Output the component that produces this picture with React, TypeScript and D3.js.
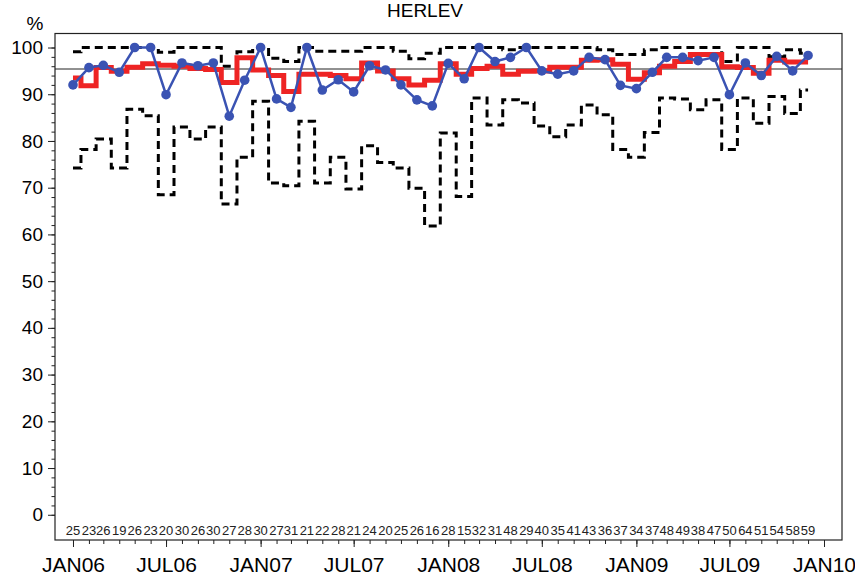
import React, { useRef, useEffect } from 'react';
import * as d3 from 'd3';

const W = 855;
const H = 576;

// one value per month, JAN06 .. DEC09
const months = d3.timeMonth.range(new Date(2006, 0, 1), new Date(2010, 0, 1));

const observed = [
  92.0, 95.7, 96.2, 94.7, 100, 100, 89.9, 96.7, 96.1, 96.7, 85.3, 93.0,
  100, 89.0, 87.2, 100, 90.9, 93.1, 90.5, 96.1, 95.2, 92.0, 88.8, 87.5,
  96.6, 93.3, 100, 97.0, 97.9, 100, 95.0, 94.3, 95.0, 97.9, 97.4, 91.9,
  91.2, 94.7, 97.9, 97.9, 97.2, 97.9, 89.9, 96.7, 94.0, 98.1, 95.0, 98.3,
];

const average = [
  93.5, 91.8, 95.7, 94.9, 95.8, 96.5, 96.2, 96.0, 95.5, 95.3, 92.5, 97.8,
  95.2, 94.0, 90.6, 94.3, 94.3, 94.0, 93.3, 96.7, 95.0, 93.3, 92.0, 93.0,
  96.5, 94.3, 95.5, 96.0, 94.3, 94.9, 95.0, 95.8, 95.8, 97.3, 97.4, 96.4,
  93.2, 94.6, 96.0, 97.0, 98.5, 98.5, 95.9, 95.7, 94.5, 97.3, 96.9, 96.9,
];

const upperLimit = [
  99.1, 100, 100, 100, 100, 100, 99.0, 100, 100, 100, 96.0, 99.1,
  100, 97.7, 97.0, 100, 99.2, 99.2, 99.2, 100, 100, 99.2, 97.6, 98.8,
  100, 100, 100, 100, 99.5, 100, 100, 100, 100, 100, 99.5, 98.5,
  98.5, 99.5, 100, 100, 100, 100, 97.0, 100, 100, 98.0, 99.5, 98.8,
];

const lowerLimit = [
  74.2, 78.2, 80.4, 74.2, 86.8, 85.4, 68.5, 83.0, 80.4, 83.0, 66.5, 76.5,
  88.5, 71.0, 70.4, 84.2, 71.0, 76.5, 69.7, 79.0, 75.4, 74.2, 69.9, 61.8,
  81.7, 68.1, 89.2, 83.4, 88.8, 88.1, 83.2, 80.9, 83.4, 87.7, 85.6, 78.2,
  76.5, 81.8, 89.2, 89.0, 86.7, 88.8, 78.2, 89.2, 83.8, 89.5, 85.9, 90.9,
];

const counts = [
  25, 23, 26, 19, 26, 23, 20, 30, 26, 30, 27, 28,
  30, 27, 31, 21, 22, 28, 21, 24, 20, 25, 26, 16,
  28, 15, 32, 31, 48, 29, 40, 35, 41, 43, 36, 37,
  34, 37, 48, 49, 38, 47, 50, 64, 51, 54, 58, 59,
];

const targetLevel = 95.4;
const yTicks = [0, 10, 20, 30, 40, 50, 60, 70, 80, 90, 100];

export default function App() {
  const svgRef = useRef<SVGSVGElement>(null);

  useEffect(() => {
    const svg = d3.select(svgRef.current);
    svg.selectAll('*').remove();
    if (!svgRef.current) return;

    const font = '"Liberation Sans", Arial, Helvetica, sans-serif';
    const plot = { left: 55, right: 842, top: 33.5, bottom: 540 };

    const x = d3.scaleTime()
      .domain([d3.timeDay.offset(new Date(2006, 0, 1), -35), d3.timeDay.offset(new Date(2010, 0, 1), 35)])
      .range([plot.left, plot.right]);
    const y = d3.scaleLinear().domain([-5.4, 103]).range([plot.bottom, plot.top]);

    // Title + unit
    svg.append('text').attr('x', 425).attr('y', 17).attr('text-anchor', 'middle')
      .attr('font-family', font).attr('font-size', 19).attr('fill', '#000').text('HERLEV');
    svg.append('text').attr('x', 35).attr('y', 30).attr('text-anchor', 'middle')
      .attr('font-family', font).attr('font-size', 19).attr('fill', '#000').text('%');

    // Y axis: minor every 2, major every 10
    const yMinor = svg.append('g').attr('transform', `translate(${plot.left},0)`)
      .call(d3.axisLeft(y).tickValues(d3.range(0, 101, 2)).tickSize(3.5).tickSizeOuter(0).tickFormat(() => ''));
    yMinor.select('.domain').remove();
    const yMajor = svg.append('g').attr('transform', `translate(${plot.left},0)`)
      .call(d3.axisLeft(y).tickValues(yTicks).tickSize(7).tickSizeOuter(0).tickPadding(5));
    yMajor.select('.domain').remove();
    yMajor.selectAll('text').attr('font-family', font).attr('font-size', 19).attr('fill', '#000');

    // X axis: minor monthly, major every 6 months
    const fmt = d3.timeFormat('%b%y');
    const xMinor = svg.append('g').attr('transform', `translate(0,${plot.bottom})`)
      .call(d3.axisBottom(x).tickValues(d3.timeMonth.range(new Date(2006, 0, 1), new Date(2010, 0, 2)))
        .tickSize(4).tickSizeOuter(0).tickFormat(() => ''));
    xMinor.select('.domain').remove();
    const xMajor = svg.append('g').attr('transform', `translate(0,${plot.bottom})`)
      .call(d3.axisBottom(x).tickValues(d3.timeMonth.every(6)!.range(new Date(2006, 0, 1), new Date(2010, 0, 2)))
        .tickSize(7).tickSizeOuter(0).tickPadding(10).tickFormat((d) => fmt(d as Date).toUpperCase()));
    xMajor.select('.domain').remove();
    xMajor.selectAll('text').attr('font-family', font).attr('font-size', 21).attr('fill', '#000');

    svg.selectAll('.tick line').attr('stroke', '#222');

    // Frame
    svg.append('rect')
      .attr('x', plot.left).attr('y', plot.top)
      .attr('width', plot.right - plot.left).attr('height', plot.bottom - plot.top)
      .attr('fill', 'none').attr('stroke', '#222').attr('stroke-width', 1.2);

    // Target reference line
    svg.append('line')
      .attr('x1', plot.left).attr('x2', plot.right)
      .attr('y1', y(targetLevel)).attr('y2', y(targetLevel))
      .attr('stroke', '#222').attr('stroke-width', 1);

    const step = d3.line<number>()
      .x((_, i) => x(months[i]))
      .y((d) => y(d))
      .curve(d3.curveStep);

    // Control limits
    [upperLimit, lowerLimit].forEach((lim) => {
      svg.append('path').datum(lim).attr('d', step)
        .attr('fill', 'none').attr('stroke', '#000').attr('stroke-width', 3)
        .attr('stroke-dasharray', '8,5');
    });

    // Running average
    svg.append('path').datum(average).attr('d', step)
      .attr('fill', 'none').attr('stroke', '#ee2424').attr('stroke-width', 5);

    // Monthly observed
    const line = d3.line<number>()
      .x((_, i) => x(months[i]))
      .y((d) => y(d));
    svg.append('path').datum(observed).attr('d', line)
      .attr('fill', 'none').attr('stroke', '#3a53b3').attr('stroke-width', 2.5);
    svg.selectAll('.pt').data(observed).enter()
      .append('circle')
      .attr('cx', (_, i) => x(months[i])).attr('cy', (d) => y(d))
      .attr('r', 4.8).attr('fill', '#3a53b3');

    // Monthly n
    svg.selectAll('.cnt').data(counts).enter()
      .append('text')
      .attr('x', (_, i) => x(months[i])).attr('y', 535)
      .attr('text-anchor', 'middle')
      .attr('font-family', font).attr('font-size', 13).attr('fill', '#222')
      .text((d) => d);
  }, []);

  return (
    <div style={{ position: 'absolute', left: 0, top: 0, background: '#fff' }}>
      <svg ref={svgRef} width={W} height={H} style={{ display: 'block' }} />
    </div>
  );
}
